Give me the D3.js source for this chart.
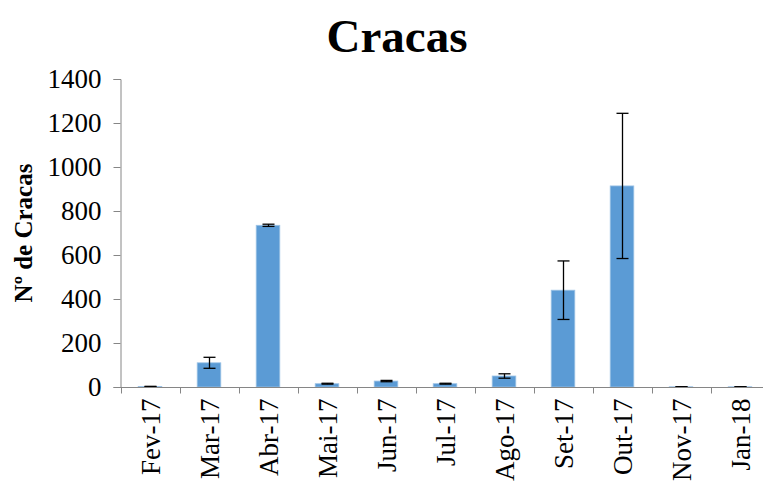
<!DOCTYPE html>
<html><head><meta charset="utf-8">
<script src="https://cdn.jsdelivr.net/npm/d3@7"></script>
<style>body{margin:0;background:#fff}svg{display:block}text{font-family:'Liberation Serif','Times New Roman',serif}</style>
</head><body>
<svg id="c" width="763" height="481"></svg>
<script>
const categories = ["Fev-17","Mar-17","Abr-17","Mai-17","Jun-17","Jul-17","Ago-17","Set-17","Out-17","Nov-17","Jan-18"];
const values = [2,110,735,15,27,15,50,440,914,1,1];
const errors = [1,25,5,2,3,2,10,133,330,0,0];
const yTicks = [0,200,400,600,800,1000,1200,1400];
const title = "Cracas";
const yTitle = "Nº de Cracas";

const svg = d3.select("#c");
const font = "'Liberation Serif','Times New Roman',serif";
const x = d3.scaleBand().domain(categories).range([120.5, 769.5]).paddingInner(0.6).paddingOuter(0.3);
const xb = d3.scaleBand().domain(categories).range([120.5, 769.5]);
const y = d3.scaleLinear().domain([0,1400]).range([387, 79]);
const axisColor = "#868686";

// bars
svg.selectAll("rect.bar").data(categories).enter().append("rect")
  .attr("x", d => x(d)).attr("width", x.bandwidth())
  .attr("y", (d,i) => y(values[i])).attr("height", (d,i) => y(0) - y(values[i]))
  .attr("fill", "#5B9BD5").attr("stroke", "#9DC3E6").attr("stroke-width", 0.8);

// error bars
const eg = svg.append("g").attr("stroke", "#000").attr("stroke-width", 1.3);
categories.forEach((c,i) => {
  const cx = Math.round(x(c) + x.bandwidth()/2) + 0.5;
  const t = y(values[i] + errors[i]), b = y(Math.max(0, values[i] - errors[i]));
  eg.append("line").attr("x1", cx).attr("x2", cx).attr("y1", t).attr("y2", b);
  eg.append("line").attr("x1", cx-6).attr("x2", cx+6).attr("y1", t).attr("y2", t);
  eg.append("line").attr("x1", cx-6).attr("x2", cx+6).attr("y1", b).attr("y2", b);
});

// y axis
const yAxis = svg.append("g").attr("transform", "translate(120.5,0)")
  .call(d3.axisLeft(y).tickValues(yTicks).tickSize(7).tickPadding(12).tickFormat(d3.format("d")));
yAxis.attr("font-family", null).attr("font-size", null);
yAxis.select(".domain").attr("stroke", axisColor);
yAxis.selectAll(".tick line").attr("stroke", axisColor);
yAxis.selectAll(".tick text").style("font-family", font).style("font-size", "27px").attr("fill", "#000");

// x axis
const xAxis = svg.append("g").attr("transform", "translate(0,387.5)");
xAxis.append("line").attr("x1", 120.5).attr("x2", 769.5).attr("stroke", axisColor);
const bounds = categories.map(c => xb(c)).concat([xb(categories[categories.length-1]) + xb.bandwidth()]);
xAxis.selectAll("line.tk").data(bounds).enter().append("line")
  .attr("x1", d => Math.round(d)+0.5).attr("x2", d => Math.round(d)+0.5)
  .attr("y1", 0).attr("y2", 6).attr("stroke", axisColor);
xAxis.selectAll("text").data(categories).enter().append("text")
  .attr("transform", d => `translate(${xb(d) + xb.bandwidth()/2 + 10},11) rotate(-90)`)
  .attr("text-anchor", "end").style("font-family", font).style("font-size", "27px").attr("fill", "#000")
  .text(d => d);

// title
svg.append("text").attr("x", 397).attr("y", 52).attr("text-anchor", "middle")
  .style("font-family", font).attr("font-weight", "bold").style("font-size", "47px").text(title);

// y title
svg.append("text").attr("transform", "translate(32,233) rotate(-90)").attr("text-anchor", "middle")
  .style("font-family", font).attr("font-weight", "bold").style("font-size", "25px").text(yTitle);
</script>
</body></html>
